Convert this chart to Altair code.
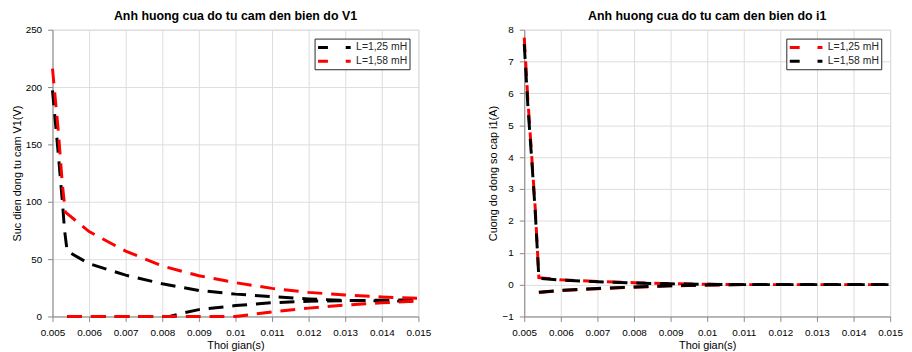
import altair as alt
import pandas as pd

series = ["L=1,25 mH", "L=1,58 mH"]

# ---- Panel 1: V1 ----
v1_a_up_t = [0.005, 0.00516, 0.00527, 0.00533, 0.0054, 0.006, 0.007, 0.008, 0.009, 0.010, 0.011, 0.012, 0.013, 0.014, 0.015]
v1_a_up_v = [197, 141, 100, 75, 57, 46, 36, 28.5, 22.7, 19.5, 17.3, 15.3, 14, 13.5, 13.2]
v1_a_lo_t = [0.0054, 0.0082, 0.0085, 0.009, 0.010, 0.011, 0.012, 0.013, 0.014, 0.015]
v1_a_lo_v = [0, 0, 2.5, 6, 9.5, 12, 13.3, 13.8, 14.2, 14.4]
v1_b_up_t = [0.005, 0.00516, 0.00527, 0.00535, 0.006, 0.007, 0.008, 0.009, 0.010, 0.011, 0.012, 0.013, 0.014, 0.015]
v1_b_up_v = [216, 161, 115, 91, 74, 57, 44, 35.5, 29.5, 24.5, 21, 18.7, 17, 15.8]
v1_b_lo_t = [0.0054, 0.010, 0.0105, 0.011, 0.012, 0.013, 0.014, 0.015]
v1_b_lo_v = [0, 0, 2, 4, 7.3, 10, 11.9, 13.5]

# ---- Panel 2: i1 ----
i1_a_up_t = [0.005, 0.0051, 0.0052, 0.0053, 0.0054, 0.006, 0.007, 0.008, 0.009, 0.010, 0.011, 0.012, 0.013, 0.014, 0.015]
i1_a_up_v = [7.75, 5.8, 4.1, 2.4, 0.22, 0.15, 0.1, 0.06, 0.03, 0.01, 0.0, 0.0, 0.0, 0.0, 0.0]
i1_a_lo_t = [0.0054, 0.006, 0.007, 0.008, 0.009, 0.010, 0.011, 0.012, 0.013, 0.014, 0.015]
i1_a_lo_v = [-0.25, -0.19, -0.13, -0.08, -0.04, -0.015, 0.0, 0.0, 0.0, 0.0, 0.0]
i1_b_up_t = [0.005, 0.0051, 0.0052, 0.0053, 0.0054, 0.006, 0.007, 0.008, 0.009, 0.010, 0.011, 0.012, 0.013, 0.014, 0.015]
i1_b_up_v = [7.55, 5.6, 4.0, 2.3, 0.2, 0.14, 0.09, 0.05, 0.025, 0.01, 0.0, 0.0, 0.0, 0.0, 0.0]
i1_b_lo_t = [0.0054, 0.006, 0.007, 0.008, 0.009, 0.010, 0.011, 0.012, 0.013, 0.014, 0.015]
i1_b_lo_v = [-0.24, -0.18, -0.12, -0.075, -0.035, -0.012, 0.0, 0.0, 0.0, 0.0, 0.0]

x_ticks = [0.005, 0.006, 0.007, 0.008, 0.009, 0.010, 0.011, 0.012, 0.013, 0.014, 0.015]
v1_ticks = [0, 50, 100, 150, 200, 250]
i1_ticks = [-1, 0, 1, 2, 3, 4, 5, 6, 7, 8]

FONT = "Liberation Sans"
TXT = "#262626"


def frame(up_t, up_v, lo_t, lo_v, s):
    a = pd.DataFrame({"t": up_t, "v": up_v, "b": "up"})
    b = pd.DataFrame({"t": lo_t, "v": lo_v, "b": "lo"})
    d = pd.concat([a, b], ignore_index=True)
    d["s"] = s
    return d


def panel(dfs, colors, title, ytitle, ydomain, yticks, ytpad):
    color = alt.Color(
        "s:N",
        scale=alt.Scale(domain=series, range=colors),
        legend=alt.Legend(
            title=None, orient="top-right", offset=9,
            symbolType="M-1,0H5", symbolSize=121, symbolStrokeWidth=3,
            symbolDash=[10, 18], labelFontSize=10.5, labelFont=FONT, labelColor=TXT,
            fillColor="white", strokeColor=TXT, padding=2, rowPadding=1,
            symbolOffset=0, labelOffset=26,
        ),
    )
    x = alt.X("t:Q", scale=alt.Scale(domain=[0.005, 0.015], nice=False, zero=False),
              axis=alt.Axis(values=x_ticks, format=".3~f", title="Thoi gian(s)",
                            labelOverlap=False, labelFlush=False, titleFontWeight="normal",
                            labelPadding=6, titlePadding=2))
    y = alt.Y("v:Q", scale=alt.Scale(domain=ydomain, nice=False, zero=False),
              axis=alt.Axis(values=yticks, title=ytitle, labelOverlap=False,
                            labelFlush=False, titleFontWeight="normal",
                            labelPadding=6, titlePadding=ytpad))
    layers = [
        alt.Chart(df).mark_line(strokeWidth=3, strokeDash=[15, 9]).encode(
            x=x, y=y, color=color, detail="b:N", order="t:Q")
        for df in dfs
    ]
    return alt.layer(*layers).properties(
        width=370, height=290,
        title=alt.Title(title, offset=2, fontSize=12.5, font=FONT, fontWeight="bold", color="#000"),
    )


left = panel(
    [frame(v1_a_up_t, v1_a_up_v, v1_a_lo_t, v1_a_lo_v, series[0]),
     frame(v1_b_up_t, v1_b_up_v, v1_b_lo_t, v1_b_lo_v, series[1])],
    ["#000000", "#ff0000"],
    "Anh huong cua do tu cam den bien do V1", "Suc dien dong tu cam V1(V)",
    [0, 250], v1_ticks, 3)

right = panel(
    [frame(i1_a_up_t, i1_a_up_v, i1_a_lo_t, i1_a_lo_v, series[0]),
     frame(i1_b_up_t, i1_b_up_v, i1_b_lo_t, i1_b_lo_v, series[1])],
    ["#ff0000", "#000000"],
    "Anh huong cua do tu cam den bien do i1", "Cuong do dong so cap i1(A)",
    [-1, 8], i1_ticks, 4)

chart = alt.hconcat(left, right, spacing=107, bounds="flush").resolve_scale(
    color="independent", x="independent", y="independent"
).properties(
    padding={"left": 2, "top": 0, "right": 0, "bottom": 0}
).configure_view(
    stroke=TXT, strokeWidth=1
).configure_axis(
    labelFont=FONT, titleFont=FONT, labelFontSize=11, titleFontSize=12.5,
    labelColor=TXT, titleColor=TXT, titleFontWeight="normal",
    gridColor="#dfdfdf", gridOpacity=1, domainColor=TXT, ticks=False,
).configure(background="white")

chart.save("out.html", embed_options={"renderer": "svg", "actions": False})
